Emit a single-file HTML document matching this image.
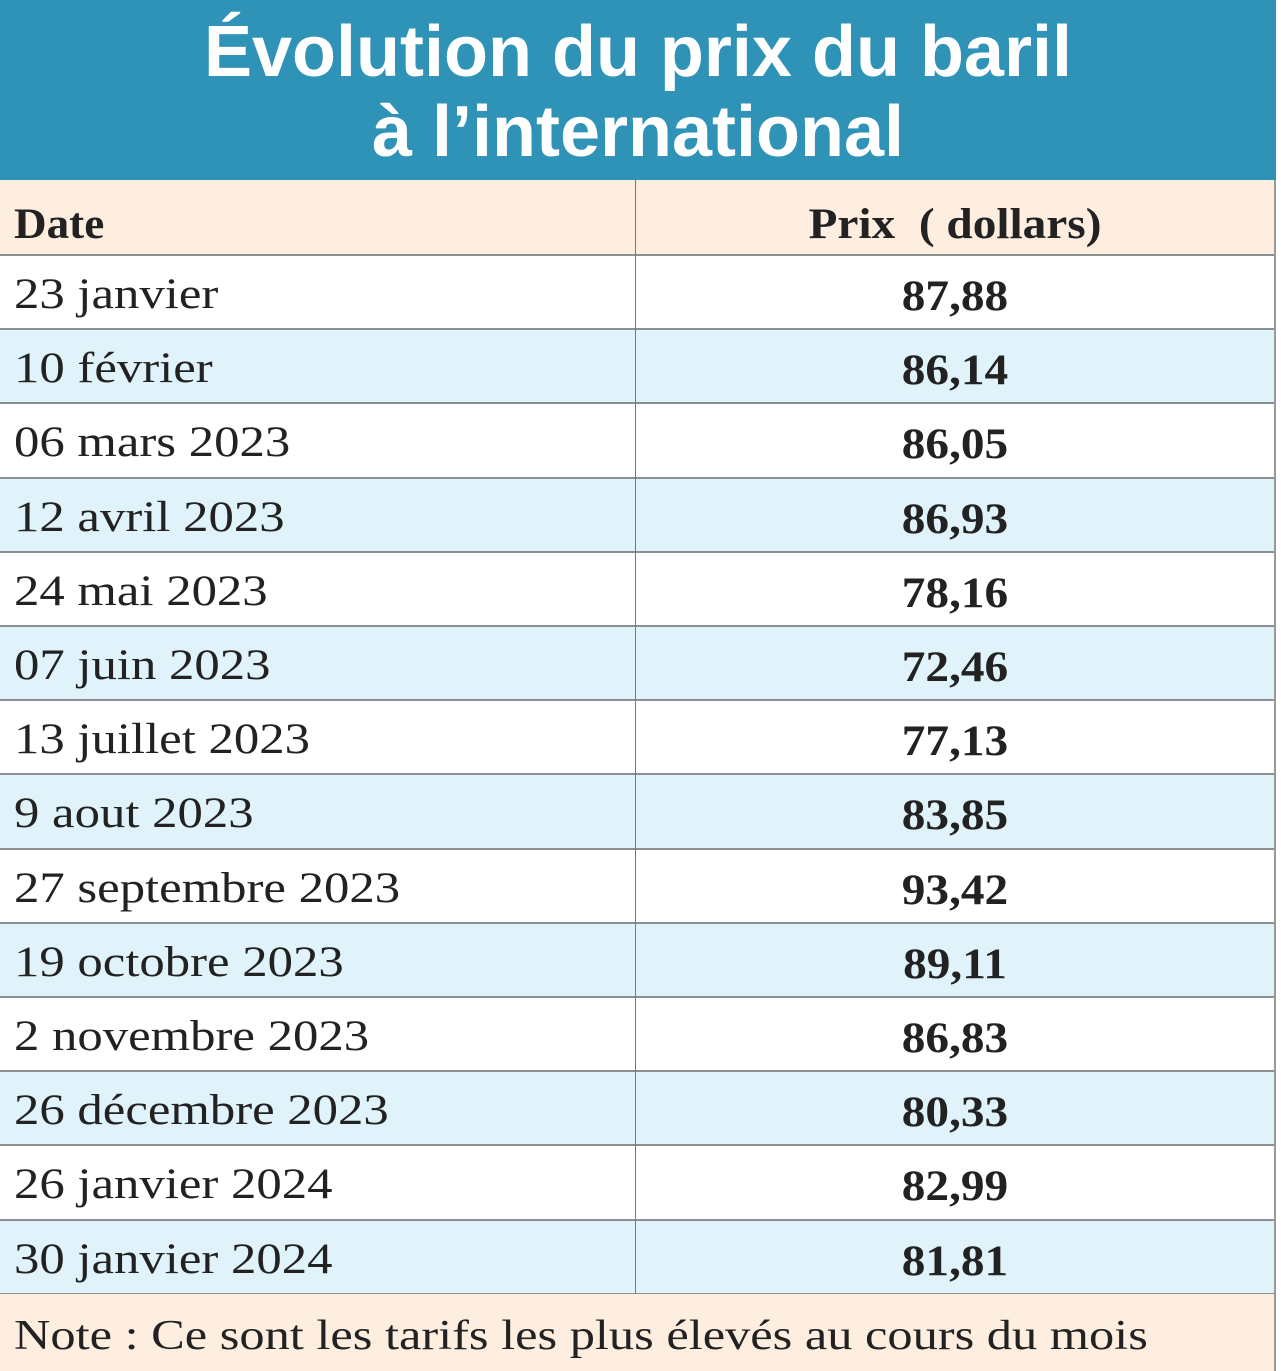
<!DOCTYPE html>
<html><head><meta charset="utf-8"><style>
body{margin:0;width:1281px;height:1371px;background:#fff;overflow:hidden;font-family:"Liberation Serif",serif;}
.title{position:absolute;left:0;top:0;width:1276px;height:180px;background:#2f93b7;color:#fff;text-align:center;font-family:"Liberation Sans Narrow","Liberation Sans",sans-serif;font-weight:bold;font-size:72px;line-height:80px;padding-top:12px;box-sizing:border-box;}
.row{position:absolute;left:0;width:1274px;border-bottom:2px solid #8a8f92;box-sizing:border-box;}
.c1{position:absolute;left:14px;font-size:43px;color:#222;transform:scaleX(1.18);transform-origin:0 0;white-space:nowrap;}
.c2{position:absolute;left:636px;width:638px;text-align:center;font-size:43px;font-weight:bold;color:#222;transform:scaleX(1.1);}
.vl{position:absolute;left:635px;top:180px;width:1px;height:1114px;background:#777;}
.rb{position:absolute;left:1274px;top:180px;width:2px;height:1191px;background:#999;}
</style></head><body>
<div class="title">Évolution du prix du baril<br>à l’international</div>
<div class="row" style="top:180px;height:76px;background:#fdeee0"><span class="c1" style="top:20px;font-weight:bold;transform:scaleX(1.05)">Date</span><span class="c2" style="top:20px">Prix &nbsp;( dollars)</span></div>
<div id="rows"></div>
<div class="row" style="top:1294px;height:77px;background:#fdeee0;border-bottom:none"><span class="c1" style="top:18px;font-size:42px;transform:scaleX(1.2)">Note : Ce sont les tarifs les plus élevés au cours du mois</span></div>
<div class="vl"></div><div class="rb"></div>
<script>
var d=[["23 janvier","87,88"],["10 février","86,14"],["06 mars 2023","86,05"],["12 avril 2023","86,93"],["24 mai 2023","78,16"],["07 juin 2023","72,46"],["13 juillet 2023","77,13"],["9 aout 2023","83,85"],["27 septembre 2023","93,42"],["19 octobre 2023","89,11"],["2 novembre 2023","86,83"],["26 décembre 2023","80,33"],["26 janvier 2024","82,99"],["30 janvier 2024","81,81"]];
var h="";for(var i=0;i<d.length;i++){var t=256+i*74.2;h+='<div class="row" style="top:'+t+'px;height:74.2px;background:'+(i%2?'#e1f3fa':'#fff')+'"><span class="c1" style="top:14px">'+d[i][0]+'</span><span class="c2" style="top:16px">'+d[i][1]+'</span></div>';}
document.getElementById("rows").innerHTML=h;
</script>
</body></html>
